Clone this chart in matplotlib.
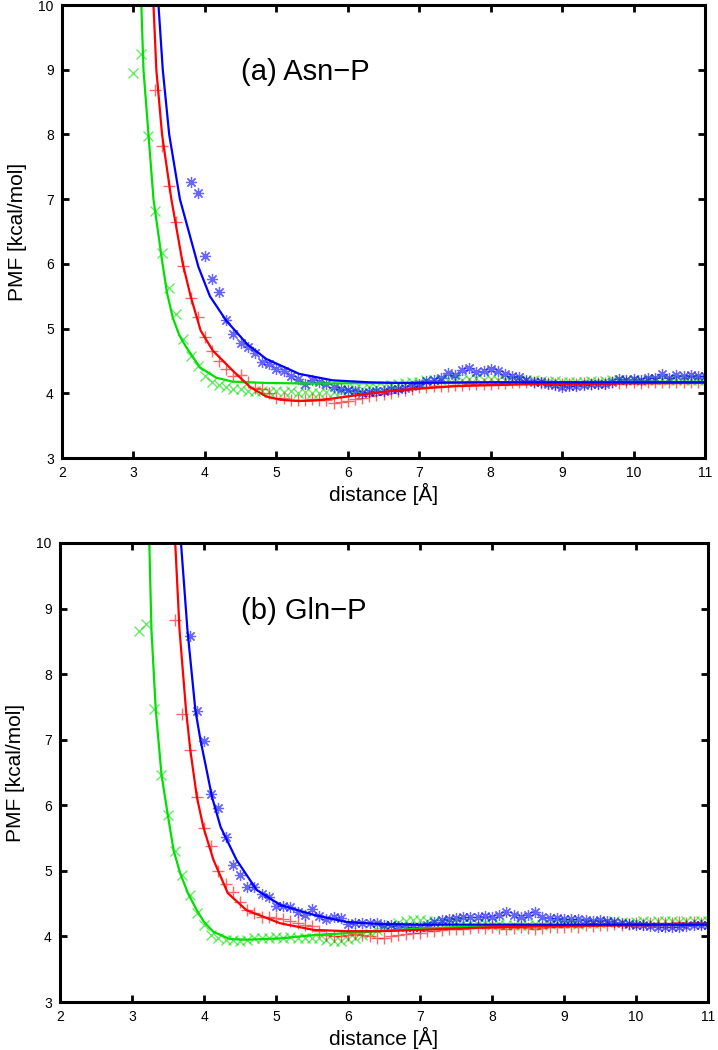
import numpy as np
import matplotlib
matplotlib.use('Agg')
from matplotlib import pyplot as plt
from matplotlib.ticker import MultipleLocator

plt.rcParams['font.family'] = ['Liberation Sans', 'DejaVu Sans']

# ---- panel (a) Asn-P : sampled PMF points (0.1 A grid) ----
a_green_x0 = 3.0
a_green = [8.95, 9.25, 7.98, 6.82, 6.17, 5.63, 5.22, 4.84, 4.58, 4.42,
           4.26, 4.18, 4.13, 4.10, 4.07, 4.06, 4.04, 4.03, 4.04, 4.02,
           4.03, 4.02, 4.03, 4.01, 4.02, 4.00, 4.01, 4.02, 4.02, 4.04,
           4.05, 4.06, 4.07, 4.09, 4.10, 4.12, 4.13, 4.15, 4.16, 4.18,
           4.17, 4.20, 4.21, 4.20, 4.22, 4.23, 4.21, 4.22, 4.23, 4.21,
           4.22, 4.20, 4.21, 4.19, 4.20, 4.21, 4.20, 4.19, 4.18, 4.19,
           4.17, 4.18, 4.17, 4.18, 4.19, 4.18, 4.19, 4.20, 4.21, 4.20,
           4.21, 4.19, 4.20, 4.21, 4.22, 4.20, 4.21, 4.20, 4.21, 4.20,
           4.21]
a_red_x0 = 3.3
a_red = [8.68, 7.82, 7.20, 6.65, 5.96, 5.48, 5.18, 4.87, 4.65, 4.50,
         4.38, 4.27, 4.28, 4.17, 4.08, 4.06, 4.00, 3.93, 3.92, 3.90,
         3.89, 3.90, 3.91, 3.90, 3.89, 3.85, 3.86, 3.88, 3.91, 3.92,
         3.96, 3.98, 3.99, 4.01, 4.03, 4.05, 4.07, 4.09, 4.10, 4.11,
         4.12, 4.12, 4.13, 4.13, 4.14, 4.14, 4.15, 4.15, 4.16, 4.16,
         4.17, 4.17, 4.18, 4.17, 4.16, 4.16, 4.15, 4.14, 4.15, 4.15,
         4.16, 4.15, 4.16, 4.16, 4.17, 4.16, 4.17, 4.17, 4.16, 4.17,
         4.17, 4.18, 4.17, 4.17, 4.18, 4.17, 4.18, 4.18]
a_blue_x0 = 3.8
a_blue = [7.26, 7.10, 6.12, 5.77, 5.56, 5.14, 4.92, 4.78, 4.72, 4.62,
          4.48, 4.45, 4.38, 4.35, 4.27, 4.22, 4.15, 4.20, 4.18, 4.14,
          4.10, 4.07, 4.05, 4.04, 4.01, 4.02, 4.03, 4.04, 4.06, 4.07,
          4.08, 4.11, 4.15, 4.19, 4.20, 4.24, 4.31, 4.28, 4.36, 4.39,
          4.33, 4.35, 4.37, 4.34, 4.30, 4.27, 4.25, 4.21, 4.18, 4.17,
          4.15, 4.13, 4.09, 4.12, 4.11, 4.13, 4.15, 4.14, 4.15, 4.17,
          4.22, 4.20, 4.22, 4.20, 4.23, 4.24, 4.30, 4.24, 4.28, 4.26,
          4.28, 4.27, 4.26]

# fitted curves (a)
a_green_fit_x = [3.11, 3.14, 3.21, 3.28, 3.40, 3.47, 3.55, 3.64, 3.74, 3.93,
                 4.16, 4.39, 4.86, 5.5, 6.72, 8.0, 11.0]
a_green_fit_y = [10.0, 9.0, 8.0, 7.0, 6.05, 5.55, 5.17, 4.90, 4.71, 4.40,
                 4.24, 4.18, 4.16, 4.15, 4.16, 4.17, 4.18]
a_red_fit_x = [3.28, 3.32, 3.40, 3.53, 3.69, 3.80, 3.94, 4.11, 4.39, 4.63,
               4.86, 5.06, 5.32, 5.55, 5.79, 6.26, 6.72, 7.5, 8.5, 11.0]
a_red_fit_y = [10.0, 9.0, 8.0, 7.0, 6.0, 5.5, 4.97, 4.66, 4.35, 4.10,
               3.95, 3.90, 3.88, 3.89, 3.92, 3.99, 4.05, 4.11, 4.14, 4.16]
a_blue_fit_x = [3.35, 3.41, 3.50, 3.65, 3.91, 4.07, 4.30, 4.60, 4.86, 5.32,
                5.79, 6.3, 6.72, 8.0, 11.0]
a_blue_fit_y = [10.0, 9.0, 8.0, 7.0, 5.95, 5.50, 5.12, 4.75, 4.53, 4.30,
                4.20, 4.17, 4.16, 4.17, 4.17]

# ---- panel (b) Gln-P ----
b_green_x0 = 3.1
b_green = [8.65, 8.77, 7.47, 6.46, 5.85, 5.31, 4.94, 4.63, 4.36, 4.17,
           4.02, 3.97, 3.95, 3.94, 3.93, 3.95, 3.97, 3.97, 3.98, 3.99,
           3.98, 3.99, 3.98, 3.98, 3.97, 3.97, 3.95, 3.93, 3.93, 3.96,
           3.98, 4.02, 4.06, 4.10, 4.14, 4.18, 4.21, 4.24, 4.25, 4.25,
           4.24, 4.23, 4.23, 4.22, 4.22, 4.21, 4.20, 4.19, 4.20, 4.18,
           4.19, 4.18, 4.17, 4.18, 4.17, 4.19, 4.18, 4.19, 4.20, 4.21,
           4.20, 4.19, 4.20, 4.21, 4.20, 4.22, 4.23, 4.22, 4.21, 4.22,
           4.23, 4.22, 4.23, 4.24, 4.23, 4.22, 4.23, 4.24, 4.23, 4.24]
b_red_x0 = 3.6
b_red = [8.83, 7.39, 6.84, 6.13, 5.66, 5.38, 5.00, 4.80, 4.68, 4.53,
         4.40, 4.35, 4.30, 4.30, 4.28, 4.27, 4.24, 4.20, 4.17, 4.16,
         4.08, 4.02, 4.00, 4.01, 4.02, 4.03, 4.02, 4.00, 3.97, 3.98,
         4.00, 4.02, 4.04, 4.05, 4.06, 4.08, 4.08, 4.10, 4.11, 4.12,
         4.12, 4.13, 4.14, 4.13, 4.14, 4.13, 4.12, 4.13, 4.14, 4.13,
         4.12, 4.13, 4.14, 4.15, 4.14, 4.16, 4.15, 4.17, 4.16, 4.18,
         4.17, 4.19, 4.18, 4.19, 4.20, 4.19, 4.20, 4.21, 4.20, 4.21,
         4.22, 4.21, 4.22, 4.21, 4.22]
b_blue_x0 = 3.8
b_blue = [8.58, 7.43, 6.98, 6.17, 5.96, 5.52, 5.09, 4.94, 4.75, 4.76,
          4.65, 4.60, 4.46, 4.47, 4.45, 4.38, 4.33, 4.42, 4.31, 4.27,
          4.30, 4.28, 4.19, 4.20, 4.21, 4.20, 4.20, 4.18, 4.17, 4.16,
          4.15, 4.14, 4.15, 4.18, 4.22, 4.25, 4.27, 4.28, 4.29, 4.30,
          4.30, 4.31, 4.30, 4.33, 4.38, 4.32, 4.30, 4.33, 4.37, 4.30,
          4.28, 4.28, 4.27, 4.26, 4.26, 4.25, 4.24, 4.25, 4.23, 4.22,
          4.20, 4.19, 4.18, 4.17, 4.16, 4.14, 4.15, 4.14, 4.15, 4.16,
          4.17, 4.17, 4.18]

b_green_fit_x = [3.24, 3.27, 3.33, 3.41, 3.50, 3.58, 3.67, 3.78, 3.90, 4.00,
                 4.13, 4.36, 4.59, 5.06, 5.52, 5.98, 6.44, 7.0, 8.0, 9.0, 11.0]
b_green_fit_y = [10.0, 8.67, 7.45, 6.46, 5.83, 5.30, 4.96, 4.65, 4.40, 4.22,
                 4.07, 3.96, 3.95, 3.97, 4.02, 4.05, 4.08, 4.12, 4.16, 4.17, 4.18]
b_red_fit_x = [3.60, 3.66, 3.75, 3.81, 3.90, 3.99, 4.13, 4.33, 4.59, 5.06,
               5.52, 5.98, 6.44, 7.0, 8.0, 9.0, 11.0]
b_red_fit_y = [10.0, 8.67, 7.45, 6.84, 6.13, 5.67, 5.17, 4.66, 4.40, 4.20,
               4.10, 4.08, 4.08, 4.10, 4.14, 4.16, 4.18]
b_blue_fit_x = [3.68, 3.77, 3.88, 3.95, 4.05, 4.11, 4.23, 4.45, 4.73, 5.06,
                5.52, 5.98, 6.44, 7.0, 8.0, 11.0]
b_blue_fit_y = [10.0, 8.67, 7.45, 7.00, 6.46, 6.13, 5.67, 5.17, 4.71, 4.48,
                4.33, 4.22, 4.19, 4.18, 4.18, 4.18]

GREEN = '#00e000'
RED = '#ff0000'
BLUE = '#0000ff'
ASTER = (8, 2, 0)


def grid(x0, vals):
    return np.round(x0 + 0.1 * np.arange(len(vals)), 2)


def panel(ax, pts, fits, label):
    (gx0, g), (rx0, r), (bx0, b) = pts
    ax.plot(grid(gx0, g), g, ls='none', marker='x', ms=7, mew=1,
            color=GREEN, alpha=0.6)
    ax.plot(grid(rx0, r), r, ls='none', marker='+', ms=8, mew=1,
            color=RED, alpha=0.6)
    ax.plot(grid(bx0, b), b, ls='none', marker=ASTER, ms=8, mew=0.9,
            color=BLUE, alpha=0.6)
    for (fx, fy), c in zip(fits, [GREEN, RED, BLUE]):
        ax.plot(fx, fy, color=c, lw=1.6)

    ax.set_xlim(2, 11)
    ax.set_ylim(3, 10)
    ax.xaxis.set_major_locator(MultipleLocator(1))
    ax.yaxis.set_major_locator(MultipleLocator(1))
    ax.tick_params(direction='in', top=True, right=True, length=5,
                   width=2, labelsize=10, pad=6)
    for s in ax.spines.values():
        s.set_linewidth(2.2)
    ax.set_xlabel('distance [Å]', fontsize=15, labelpad=2)
    ax.set_ylabel('PMF [kcal/mol]', fontsize=15, labelpad=8)
    ax.text(4.51, 8.97, label, fontsize=21, ha='left', va='center')


fig = plt.figure(figsize=(7.18, 10.5), dpi=100)
ax1 = fig.add_axes([0.0864, 0.5638, 0.8955, 0.4314])
ax2 = fig.add_axes([0.0836, 0.0457, 0.9025, 0.4372])

panel(ax1, [(a_green_x0, a_green), (a_red_x0, a_red), (a_blue_x0, a_blue)],
      [(a_green_fit_x, a_green_fit_y), (a_red_fit_x, a_red_fit_y),
       (a_blue_fit_x, a_blue_fit_y)], '(a) Asn\u2212P')
panel(ax2, [(b_green_x0, b_green), (b_red_x0, b_red), (b_blue_x0, b_blue)],
      [(b_green_fit_x, b_green_fit_y), (b_red_fit_x, b_red_fit_y),
       (b_blue_fit_x, b_blue_fit_y)], '(b) Gln\u2212P')

fig.savefig('out.png', dpi=100)
